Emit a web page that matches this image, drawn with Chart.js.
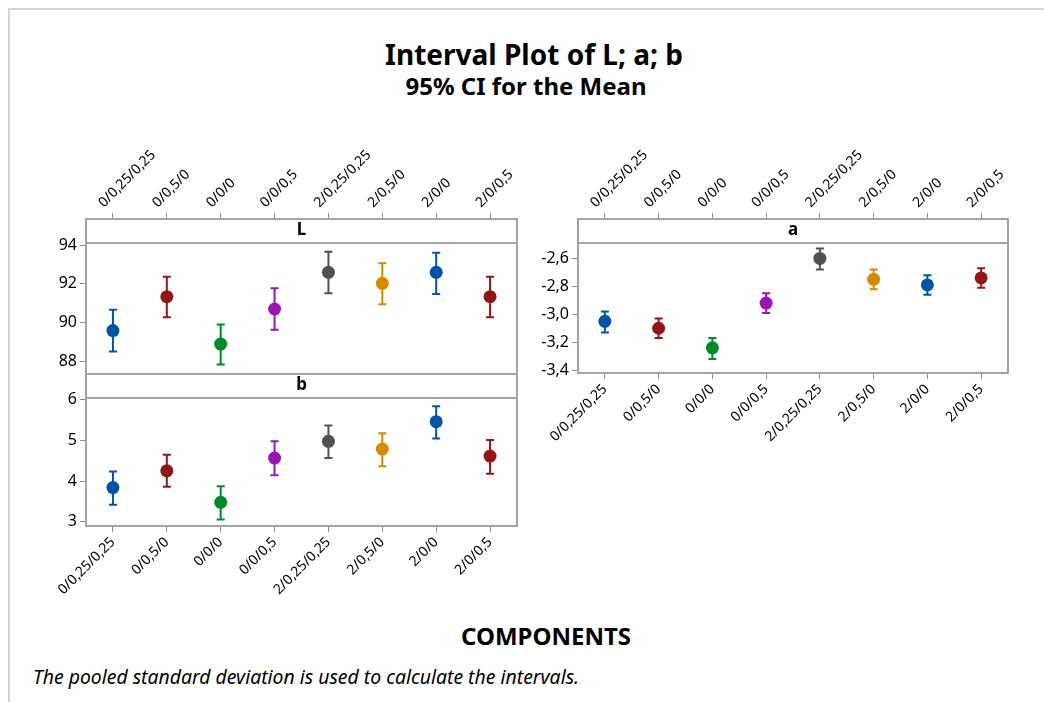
<!DOCTYPE html>
<html>
<head>
<meta charset="utf-8">
<script src="https://cdn.jsdelivr.net/npm/chart.js@4.4.0/dist/chart.umd.min.js"></script>
<style>
  body { margin: 0; background: #fff; width: 1044px; height: 702px; overflow: hidden; position: relative; font-family: "Noto Sans", sans-serif; }
  canvas { position: absolute; left: 0; top: 0; }
  .frame { position: absolute; left: 8px; top: 8px; right: 0; bottom: 0; border-left: 2px solid #d4d4d4; border-top: 2px solid #d4d4d4; }
  .txt { position: absolute; white-space: nowrap; color: #000; line-height: 1; }
  .c { transform: translateX(-50%); }
</style>
</head>
<body>
<div class="frame"></div>
<div class="txt c" style="left:534px; top:40px; font-size:28px; font-weight:bold;">Interval Plot of L; a; b</div>
<div class="txt c" style="left:526px; top:74px; font-size:24px; font-weight:bold;">95% CI for the Mean</div>
<div class="txt c" style="left:546px; top:624px; font-size:24px; font-weight:bold;">COMPONENTS</div>
<div class="txt" style="left:33px; top:667px; font-size:19.4px; font-style:italic;">The pooled standard deviation is used to calculate the intervals.</div>

<canvas id="chartL" width="1044" height="702"></canvas>
<canvas id="chartB" width="1044" height="702"></canvas>
<canvas id="chartA" width="1044" height="702"></canvas>

<script>
// categories and point colours
const components = ['0/0,25/0,25', '0/0,5/0', '0/0/0', '0/0/0,5', '2/0,25/0,25', '2/0,5/0', '2/0/0', '2/0/0,5'];
const pointColors = ['#0054a6', '#931616', '#008a26', '#9a16b4', '#505050', '#d68a00', '#0054a6', '#931616'];

// L: means and 95% CI bounds
const meanL = [89.58, 91.34, 88.88, 90.70, 92.60, 92.03, 92.60, 91.34];
const lowL  = [88.50, 90.27, 87.82, 89.63, 91.52, 90.95, 91.48, 90.27];
const highL = [90.66, 92.37, 89.90, 91.78, 93.67, 93.07, 93.62, 92.37];
const ticksL = [88, 90, 92, 94];

// a
const meanA = [-3.05, -3.10, -3.24, -2.92, -2.60, -2.75, -2.79, -2.74];
const lowA  = [-3.13, -3.17, -3.32, -2.99, -2.68, -2.82, -2.86, -2.81];
const highA = [-2.98, -3.03, -3.17, -2.85, -2.53, -2.68, -2.72, -2.67];
const ticksA = [-3.4, -3.2, -3.0, -2.8, -2.6];

// b
const meanB = [3.84, 4.25, 3.48, 4.56, 4.97, 4.78, 5.45, 4.61];
const lowB  = [3.42, 3.86, 3.06, 4.14, 4.56, 4.36, 5.04, 4.18];
const highB = [4.23, 4.64, 3.87, 4.97, 5.36, 5.17, 5.83, 5.00];
const ticksB = [3, 4, 5, 6];

Chart.defaults.font.family = "'Noto Sans', sans-serif";
Chart.defaults.color = '#000';

const frameColor = '#a3a3a3';
const stripH = 24;
const axisH = 100;

// draws the CI bars under the points, then the panel frame and the header strip
const intervalPanel = {
  id: 'intervalPanel',
  beforeDatasetsDraw(chart, args, opts) {
    const ctx = chart.ctx;
    const x = chart.scales.x, y = chart.scales.y;
    ctx.save();
    ctx.lineWidth = 2;
    opts.low.forEach((lo, i) => {
      const px = x.getPixelForValue(i);
      const y1 = y.getPixelForValue(lo);
      const y2 = y.getPixelForValue(opts.high[i]);
      ctx.strokeStyle = pointColors[i];
      ctx.beginPath();
      ctx.moveTo(px, y1); ctx.lineTo(px, y2);
      ctx.moveTo(px - 4, y1); ctx.lineTo(px + 4, y1);
      ctx.moveTo(px - 4, y2); ctx.lineTo(px + 4, y2);
      ctx.stroke();
    });
    ctx.restore();
  },
  afterDraw(chart, args, opts) {
    const ctx = chart.ctx;
    const a = chart.chartArea;
    ctx.save();
    ctx.strokeStyle = frameColor;
    ctx.lineWidth = 2;
    ctx.strokeRect(a.left, a.top, a.right - a.left, a.bottom - a.top);
    ctx.fillStyle = '#fff';
    ctx.fillRect(a.left, a.top - stripH, a.right - a.left, stripH);
    ctx.strokeRect(a.left, a.top - stripH, a.right - a.left, stripH);
    ctx.fillStyle = '#000';
    ctx.font = "bold 17px 'Noto Sans', sans-serif";
    ctx.textAlign = 'center';
    ctx.textBaseline = 'middle';
    ctx.fillText(opts.label, (a.left + a.right) / 2, a.top - stripH / 2 - 1);
    ctx.restore();
  }
};

function yScale(min, max, tickValues, decimals) {
  return {
    type: 'linear',
    position: 'left',
    min: min,
    max: max,
    afterBuildTicks: s => { s.ticks = tickValues.map(v => ({ value: v })); },
    afterFit: s => { s.width = 60; },
    border: { display: false },
    grid: { drawOnChartArea: false, drawTicks: true, tickLength: 6, color: '#8c8c8c' },
    ticks: {
      padding: 3,
      font: { size: 16 },
      callback: v => v.toFixed(decimals).replace('.', ',')
    }
  };
}

function xScale(position, tickLength) {
  return {
    type: 'category',
    position: position,
    offset: true,
    afterFit: s => { s.height = axisH; },
    border: { display: false },
    grid: { drawOnChartArea: false, drawTicks: true, tickLength: tickLength, color: '#8c8c8c', offset: false },
    ticks: { autoSkip: false, maxRotation: 45, minRotation: 45, padding: 2, font: { size: 14 } }
  };
}

function makePanel(id, label, mean, low, high, yOpts, scales, padding) {
  return new Chart(document.getElementById(id), {
    type: 'line',
    data: {
      labels: components,
      datasets: [{
        data: mean,
        showLine: false,
        pointRadius: 6.5,
        pointBorderWidth: 0,
        pointBackgroundColor: pointColors
      }]
    },
    options: {
      responsive: false,
      animation: false,
      layout: { autoPadding: false, padding: padding },
      plugins: {
        legend: { display: false },
        tooltip: { enabled: false },
        intervalPanel: { label: label, low: low, high: high }
      },
      scales: Object.assign({ y: yOpts }, scales)
    },
    plugins: [intervalPanel]
  });
}

makePanel('chartL', 'L', meanL, lowL, highL,
  yScale(87.33, 94.12, ticksL, 0),
  { x: xScale('top', 30) },
  { left: 26, top: 243 - axisH, right: 527, bottom: 328 });

makePanel('chartB', 'b', meanB, lowB, highB,
  yScale(2.9, 6.03, ticksB, 0),
  { x: xScale('bottom', 6) },
  { left: 26, top: 398, right: 527, bottom: 702 - 526 - axisH });

makePanel('chartA', 'a', meanA, lowA, highA,
  yScale(-3.42, -2.49, ticksA, 1),
  { x: xScale('bottom', 6), x2: xScale('top', 30) },
  { left: 518, top: 243 - axisH, right: 36, bottom: 702 - 373 - axisH });
</script>
</body>
</html>
